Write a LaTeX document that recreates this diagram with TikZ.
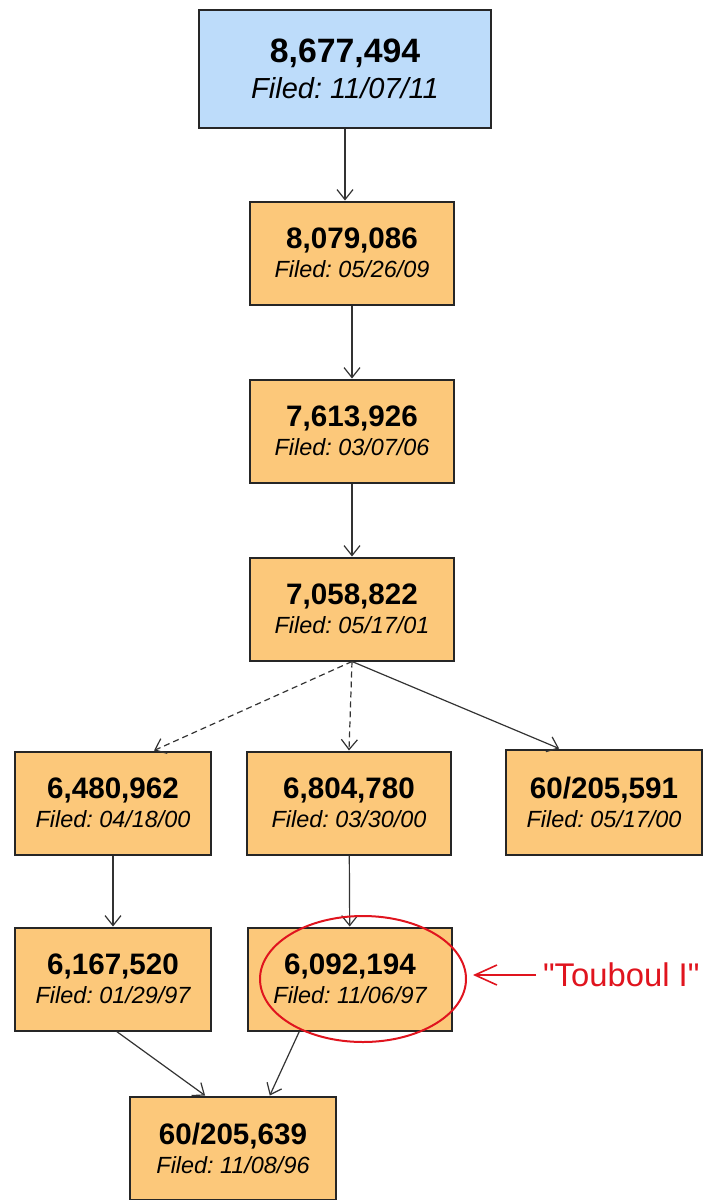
\documentclass[tikz,border=0pt]{standalone}
\usepackage{fontspec}
\setmainfont{Liberation Sans}
\newfontfamily\plainfont{Liberation Sans}[Ligatures=TeXOff]
\usetikzlibrary{arrows.meta,shapes.geometric}
\frenchspacing

\definecolor{boxorange}{HTML}{FCC87A}
\definecolor{boxblue}{HTML}{BDDCFA}
\definecolor{markred}{HTML}{E0141E}

\newcommand\numsize{\fontsize{14.8}{17}\selectfont\bfseries}
\newcommand\datesize{\fontsize{11.7}{16}\selectfont\itshape}

\tikzset{
  patent/.style={rectangle,draw=black!85,line width=1pt,fill=boxorange,
    align=center,minimum width=102pt,minimum height=51.5pt,inner sep=2pt},
  newest/.style={patent,fill=boxblue,minimum width=146pt,minimum height=59pt},
  link/.style={draw=black!80,line width=0.6pt,-{Straight Barb[length=5pt,width=8pt]}},
  maybe/.style={dash pattern=on 3pt off 2pt},
}

\begin{document}
\begin{tikzpicture}[x=0.5pt,y=-0.5pt]
        \useasboundingbox (0,0) rectangle (707,1200);

        \begin{scope}[every node/.style={patent}]
          \node[newest] (1) at (345,69)
            {{\fontsize{16.9}{20}\selectfont\bfseries 8,677,494}\\[4pt]
             {\fontsize{14.5}{18}\selectfont\itshape Filed: 11/07/11}};
          \node (2)  at (352,253)  {{\numsize 8,079,086}\\[2.5pt]{\datesize Filed: 05/26/09}};
          \node (3)  at (352,431)  {{\numsize 7,613,926}\\[2.5pt]{\datesize Filed: 03/07/06}};
          \node (4)  at (352,609)  {{\numsize 7,058,822}\\[2.5pt]{\datesize Filed: 05/17/01}};
          \node[minimum width=98pt] (5a) at (113,803)
            {{\numsize 6,480,962}\\[2.5pt]{\datesize Filed: 04/18/00}};
          \node (5b) at (349,803)  {{\numsize 6,804,780}\\[2.5pt]{\datesize Filed: 03/30/00}};
          \node[minimum width=98pt,minimum height=52.5pt] (5c) at (604,802)
            {{\numsize 60/205,591}\\[2.5pt]{\datesize Filed: 05/17/00}};
          \node[minimum width=98pt] (6a) at (113,979)
            {{\numsize 6,167,520}\\[2.5pt]{\datesize Filed: 01/29/97}};
          \node (6b) at (350,979)  {{\numsize 6,092,194}\\[2.5pt]{\datesize Filed: 11/06/97}};
          \node[minimum width=103pt] (7) at (233,1148)
            {{\numsize 60/205,639}\\[2.5pt]{\datesize Filed: 11/08/96}};
        \end{scope}

        \begin{scope}[every edge/.style={link}]
          \path (1.south) edge (1.south |- 2.north);
          \path (2)  edge (3);
          \path (3)  edge (4);
          \path (4.south) edge[maybe] (5a.52);
          \path (4.south) edge[maybe] (5b.north);
          \path (4.south) edge (5c.130);
          \path (5a) edge (6a);
          \path (5b) edge (6b);
          \path (6a.-86)  edge (7.118);
          \path (6b.-134) edge (7.55);
        \end{scope}

        % Touboul I marker
        \node[ellipse,draw=markred,line width=1pt,minimum width=103pt,
              minimum height=63pt] (ring) at (363,979) {};
        \node[text=markred,font=\plainfont\fontsize{16.4}{20}\selectfont,anchor=west]
          (touboul) at (536,975) {"Touboul I"};
        \draw[markred,line width=0.8pt,-{Straight Barb[length=11pt,width=10pt]}]
          (touboul.west) -- ([xshift=3pt]ring.east |- touboul.west);

      \end{tikzpicture}
\end{document}
